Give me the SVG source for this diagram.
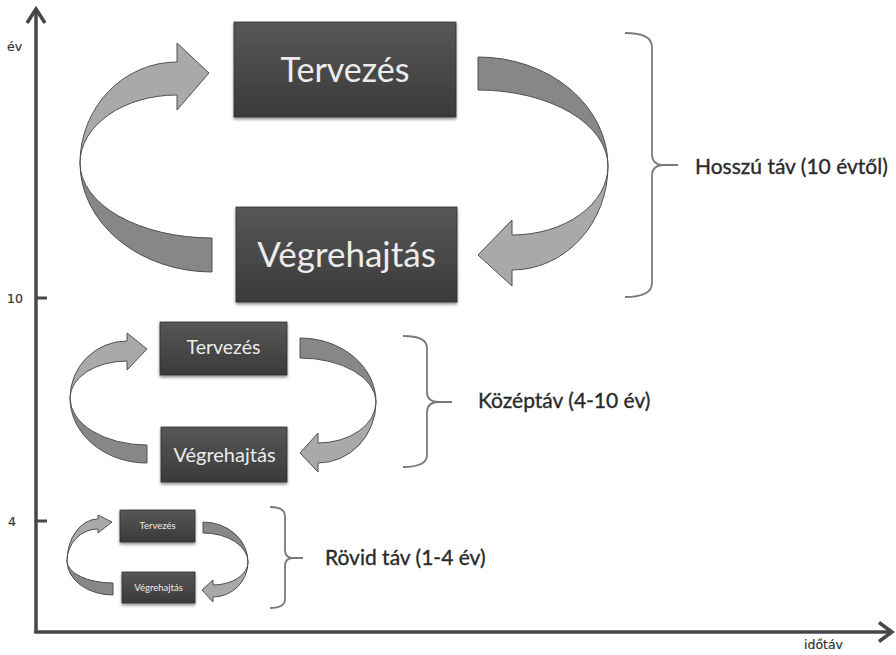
<svg xmlns="http://www.w3.org/2000/svg" width="896" height="655" viewBox="0 0 896 655">
  <defs>
    <linearGradient id="boxFill" x1="0" y1="0" x2="0" y2="1">
      <stop offset="0" stop-color="#575757"/>
      <stop offset="1" stop-color="#3a3a3a"/>
    </linearGradient>
    <filter id="shadow" x="-10%" y="-10%" width="120%" height="130%">
      <feGaussianBlur in="SourceAlpha" stdDeviation="1.5"/>
      <feOffset dx="0" dy="2" result="b"/>
      <feComponentTransfer><feFuncA type="linear" slope="0.45"/></feComponentTransfer>
      <feMerge><feMergeNode/><feMergeNode in="SourceGraphic"/></feMerge>
    </filter>
  </defs>
  <style>
    .axis { fill: none; stroke: #474747; stroke-width: 3.5; stroke-linecap: butt; stroke-linejoin: miter; }
    .tick { stroke: #474747; stroke-width: 3; }
    .axlbl { font-family: "DejaVu Sans", Verdana, sans-serif; font-size: 12.5px; fill: #333; stroke: #333; stroke-width: 0.2; }
    .box { fill: url(#boxFill); stroke: #2e2e2e; stroke-width: 0.8; filter: url(#shadow); }
    .boxtxt { font-family: Lato, "Liberation Sans", sans-serif; fill: #ececec; text-anchor: middle; }
    .dark { fill: #878787; stroke: #505050; stroke-width: 1; stroke-linejoin: round; }
    .light { fill: #a9a9a9; stroke: #505050; stroke-width: 1; stroke-linejoin: round; }
    .brace { fill: none; stroke: #7a7a7a; stroke-width: 1.8; }
    .lbl { font-family: Lato, "Liberation Sans", sans-serif; font-size: 21px; fill: #2a2a2a; stroke: #2a2a2a; stroke-width: 0.35; }
  </style>
  <rect width="896" height="655" fill="#ffffff"/>

  <!-- axes -->
  <g id="axes">
    <line class="axis" x1="36" y1="10" x2="36" y2="633"/>
    <line class="axis" x1="34.25" y1="632" x2="891" y2="632"/>
    <polyline class="axis" points="27,23 36,9 45,23"/>
    <polyline class="axis" points="879,622.5 892,632 879,641.5"/>
    <line class="tick" x1="36" y1="298" x2="47" y2="298"/>
    <line class="tick" x1="36" y1="521" x2="47" y2="521"/>
    <text class="axlbl" x="7" y="51">év</text>
    <text class="axlbl" x="7" y="303">10</text>
    <text class="axlbl" x="8" y="526">4</text>
    <text class="axlbl" x="804" y="649">időtáv</text>
  </g>

  <!-- curved cycle arrows -->
  <g id="connectors">
    <!-- long term -->
    <path class="dark" d="M80,163 A132,109 0 0 0 212,272 L212,238 A132,75 0 0 1 80,163 Z"/>
    <path class="light" d="M80,163 A97,101 0 0 1 177,62 L177,43 L209,73 L177,110 L177,95 A97,68 0 0 0 80,163 Z"/>
    <path class="dark" d="M478,57 A130,109 0 0 1 608,166 A130,76 0 0 0 478,90 Z"/>
    <path class="light" d="M608,166 A96,104 0 0 1 512,270 L512,286 L478,255 L512,220 L512,235 A96,69 0 0 0 608,166 Z"/>
    <!-- mid term -->
    <path class="dark" d="M70,398 A77,65 0 0 0 147,463 L147,445 A77,47 0 0 1 70,398 Z"/>
    <path class="light" d="M70,398 A57,57 0 0 1 127,341 L127,333 L147,349 L127,370 L127,361 A57,37 0 0 0 70,398 Z"/>
    <path class="dark" d="M300,338 A76,64 0 0 1 376,402 A76,44 0 0 0 300,358 Z"/>
    <path class="light" d="M376,402 A58,61 0 0 1 318,463 L318,472 L300,453 L318,433 L318,443 A58,41 0 0 0 376,402 Z"/>
    <!-- short term -->
    <path class="dark" d="M67,561 A46,34 0 0 0 113,595 L113,583 A46,22 0 0 1 67,561 Z"/>
    <path class="light" d="M67,561 A31,42 0 0 1 98,519 L98,515 L112,522 L98,533 L98,529 A31,32 0 0 0 67,561 Z"/>
    <path class="dark" d="M203,522 A45,40 0 0 1 248,562 A45,29 0 0 0 203,533 Z"/>
    <path class="light" d="M248,562 A35,35 0 0 1 213,597 L213,602 L202,590 L213,580 L213,585 A35,23 0 0 0 248,562 Z"/>
  </g>

  <!-- long term nodes -->
  <g id="long-plan">
    <rect class="box" x="234" y="22" width="222" height="95"/>
    <text class="boxtxt" x="345" y="82" font-size="34">Tervezés</text>
  </g>
  <g id="long-exec">
    <rect class="box" x="236" y="207" width="221" height="95"/>
    <text class="boxtxt" x="346.5" y="267" font-size="35">Végrehajtás</text>
  </g>

  <!-- mid term nodes -->
  <g id="mid-plan">
    <rect class="box" x="160" y="322" width="127" height="53"/>
    <text class="boxtxt" x="223.5" y="354" font-size="19.5">Tervezés</text>
  </g>
  <g id="mid-exec">
    <rect class="box" x="161" y="427" width="126" height="55"/>
    <text class="boxtxt" x="224.5" y="462" font-size="20">Végrehajtás</text>
  </g>

  <!-- short term nodes -->
  <g id="short-plan">
    <rect class="box" x="120" y="510" width="75" height="32"/>
    <text class="boxtxt" x="157.5" y="529" font-size="9.5">Tervezés</text>
  </g>
  <g id="short-exec">
    <rect class="box" x="122" y="572" width="73" height="31"/>
    <text class="boxtxt" x="158.5" y="591" font-size="9.5">Végrehajtás</text>
  </g>

  <!-- period braces and labels -->
  <g id="long-term">
    <path class="brace" d="M625,33 Q652,33 652,47 L652,154 Q652,165 664,165 Q652,165 652,176 L652,283 Q652,297 625,297 M664,165 L678,165"/>
    <text class="lbl" x="695" y="174">Hosszú táv (10 évtől)</text>
  </g>
  <g id="mid-term">
    <path class="brace" d="M403,336 Q427,336 427,348 L427,392 Q427,402 439,402 Q427,402 427,412 L427,455 Q427,467 403,467 M439,402 L452,402"/>
    <text class="lbl" x="478" y="408">Középtáv (4-10 év)</text>
  </g>
  <g id="short-term">
    <path class="brace" d="M270,507 Q285,507 285,516 L285,550 Q285,558 293,558 Q285,558 285,566 L285,599 Q285,608 270,608 M293,558 L303,558"/>
    <text class="lbl" x="325" y="565">Rövid táv (1-4 év)</text>
  </g>
</svg>
